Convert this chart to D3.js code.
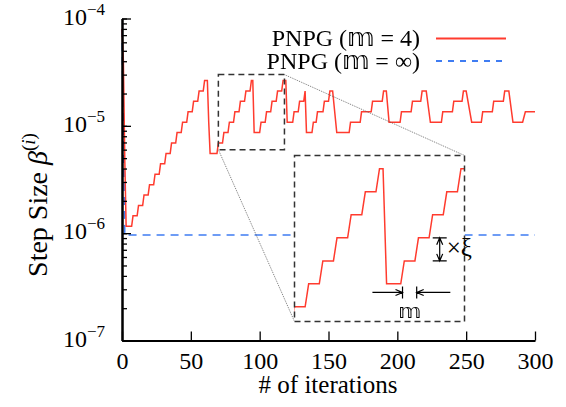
<!DOCTYPE html>
<html lang="en">
<head>
<meta charset="UTF-8">
<title>Step size of PNPG</title>
<script src="https://d3js.org/d3.v7.min.js"></script>
<style>
  body { margin: 0; background: #fff; }
</style>
</head>
<body>
<div id="chart"></div>
<script>
// PNPG (m = 4): vertices of the step curve, iteration / step size
const redIter = [0, 1, 2,
  3, 7, 8, 11, 12, 15, 16, 19, 20, 23, 24, 27, 28, 31, 32, 35,
  36, 39, 40, 43, 44, 47, 48, 51, 52, 55, 56, 59, 60, 62, 63,
  64, 69, 70, 73, 74, 77, 78, 81, 82, 85, 86, 89, 90, 93, 94, 95,
  96, 100, 101, 104, 105, 108, 109, 112, 113, 116, 117, 119,
  120, 124, 125, 128, 129, 132, 133,
  134, 138, 139, 141, 142, 146, 147, 150, 151, 153,
  156, 165, 166, 173, 174, 181, 182, 189, 190, 192,
  194, 202, 203, 210, 211, 217, 218, 221,
  224, 232, 233, 240, 241, 247, 248, 250,
  254, 261, 262, 269, 270, 277, 278, 281,
  284, 291, 293, 300];
const redStep = [8e-5, 4e-5, 5e-6,
  1.16e-6, 1.16e-6, 1.45e-6, 1.45e-6, 1.81e-6, 1.81e-6, 2.27e-6, 2.27e-6, 2.83e-6, 2.83e-6, 3.54e-6, 3.54e-6, 4.43e-6, 4.43e-6, 5.53e-6, 5.53e-6,
  6.92e-6, 6.92e-6, 8.65e-6, 8.65e-6, 1.08e-5, 1.08e-5, 1.35e-5, 1.35e-5, 1.69e-5, 1.69e-5, 2.11e-5, 2.11e-5, 2.64e-5, 2.64e-5, 1.08e-5,
  5.53e-6, 5.53e-6, 6.92e-6, 6.92e-6, 8.65e-6, 8.65e-6, 1.08e-5, 1.08e-5, 1.35e-5, 1.35e-5, 1.69e-5, 1.69e-5, 2.11e-5, 2.11e-5, 2.64e-5, 2.64e-5,
  8.65e-6, 8.65e-6, 1.08e-5, 1.08e-5, 1.35e-5, 1.35e-5, 1.69e-5, 1.69e-5, 2.11e-5, 2.11e-5, 2.64e-5, 2.64e-5,
  1.08e-5, 1.08e-5, 1.35e-5, 1.35e-5, 1.69e-5, 1.69e-5, 2.11e-5,
  8.65e-6, 8.65e-6, 1.08e-5, 1.08e-5, 1.35e-5, 1.35e-5, 1.69e-5, 1.69e-5, 2.11e-5, 2.11e-5,
  8.65e-6, 8.65e-6, 1.08e-5, 1.08e-5, 1.35e-5, 1.35e-5, 1.69e-5, 1.69e-5, 2.11e-5, 2.11e-5,
  1.08e-5, 1.08e-5, 1.35e-5, 1.35e-5, 1.69e-5, 1.69e-5, 2.11e-5, 2.11e-5,
  1.08e-5, 1.08e-5, 1.35e-5, 1.35e-5, 1.69e-5, 1.69e-5, 2.11e-5, 2.11e-5,
  1.08e-5, 1.08e-5, 1.35e-5, 1.35e-5, 1.69e-5, 1.69e-5, 2.11e-5, 2.11e-5,
  1.08e-5, 1.08e-5, 1.35e-5, 1.35e-5];

// PNPG (m = infinity)
const blueIter = [0, 2, 300];
const blueStep = [8e-5, 9.6e-7, 9.6e-7];

const xTicks = [0, 50, 100, 150, 200, 250, 300];
const yTicks = [1e-7, 1e-6, 1e-5, 1e-4];
const yTickExp = ["\u22127", "\u22126", "\u22125", "\u22124"];
const seriesLabels = ["PNPG (\ud835\udd5e = 4)", "PNPG (\ud835\udd5e = \u221e)"];

// zoomed window shown in the inset
const zoomIter = [70, 118];
const zoomStep = [6e-6, 3e-5];

const W = 566, H = 407;
const redColor = "#ff3b2e", blueColor = "#3f7cf2";
const serif = "'Liberation Serif', 'DejaVu Sans', serif";

const svg = d3.select("#chart").append("svg")
    .attr("width", W).attr("height", H)
    .style("font-family", serif);

// keeps the double-struck glyphs black
svg.append("defs").append("filter").attr("id", "gray")
  .append("feColorMatrix").attr("type", "saturate").attr("values", 0);

const x = d3.scaleLinear().domain([0, 300]).range([122, 535]);
const y = d3.scaleLog().domain([1e-7, 1e-4]).range([340.5, 18.5]);

const red = redIter.map((t, i) => [t, redStep[i]]);
const blue = blueIter.map((t, i) => [t, blueStep[i]]);

const line = d3.line().x(d => x(d[0])).y(d => y(d[1]));

// series
svg.append("path").datum(blue)
    .attr("fill", "none").attr("stroke", blueColor).attr("stroke-width", 1.6)
    .attr("stroke-dasharray", "8,6").attr("d", line);

svg.append("path").datum(red)
    .attr("fill", "none").attr("stroke", redColor).attr("stroke-width", 1.5)
    .attr("d", line);

// axes
const xAxis = svg.append("g")
    .attr("transform", `translate(0,${y.range()[0]})`)
    .call(d3.axisBottom(x).tickValues(xTicks).tickSizeInner(-9).tickSizeOuter(0).tickPadding(11));

svg.append("g")
    .attr("transform", `translate(${x.range()[0]},0)`)
    .call(d3.axisLeft(y).tickValues(y.ticks()).tickSizeInner(-5).tickSizeOuter(0).tickFormat(""));
svg.append("g")
    .attr("transform", `translate(${x.range()[0]},0)`)
    .call(d3.axisLeft(y).tickValues(yTicks).tickSizeInner(-9).tickSizeOuter(0).tickFormat(""));

svg.selectAll(".domain").attr("stroke", "#000").attr("stroke-width", 2);
svg.selectAll(".tick line").attr("stroke", "#000").attr("stroke-width", 1.3);
xAxis.selectAll(".tick text")
    .style("font-family", serif).style("font-size", "24px").attr("fill", "#000");

yTicks.forEach((v, i) => {
  const t = svg.append("text")
      .attr("x", 105).attr("y", y(v) + 6)
      .attr("text-anchor", "end").style("font-size", "24px");
  t.append("tspan").text("10");
  t.append("tspan").style("font-size", "17px").attr("dy", -10).text(yTickExp[i]);
});

// axis titles
svg.append("text")
    .attr("x", 328).attr("y", 393)
    .attr("text-anchor", "middle").style("font-size", "25px")
    .text("# of iterations");

const yt = svg.append("text")
    .attr("transform", "translate(47,205) rotate(-90)")
    .attr("text-anchor", "middle").style("font-size", "28px");
yt.append("tspan").text("Step Size ");
yt.append("tspan").style("font-style", "italic").text("\u03b2");
yt.append("tspan").style("font-size", "19px").attr("dy", -12).text("(");
yt.append("tspan").style("font-size", "19px").style("font-style", "italic").text("i");
yt.append("tspan").style("font-size", "19px").text(")");

// legend
const legendColors = [redColor, blueColor];
const legendDash = [null, "6,6"];
[46, 68.5].forEach((by, i) => {
  svg.append("text")
      .attr("x", 420).attr("y", by)
      .attr("text-anchor", "end").attr("fill", "#000").attr("filter", "url(#gray)")
      .style("font-size", "24px")
      .text(seriesLabels[i]);
  svg.append("line")
      .attr("x1", 436).attr("x2", 506).attr("y1", by - 7.5).attr("y2", by - 7.5)
      .attr("stroke", legendColors[i]).attr("stroke-width", 1.8)
      .attr("stroke-dasharray", legendDash[i]);
});

// inset
const ix = d3.scaleLinear().domain(zoomIter).range([294.5, 464.5]);
const iy = d3.scaleLog().domain(zoomStep).range([321.5, 155.5]);

const boxStroke = "#333";

// connectors
svg.append("line")
    .attr("x1", x(zoomIter[0])).attr("y1", y(zoomStep[0]))
    .attr("x2", ix(zoomIter[0])).attr("y2", iy(zoomStep[0]))
    .attr("stroke", "#555").attr("stroke-width", 0.8).attr("stroke-dasharray", "1,1");
svg.append("line")
    .attr("x1", x(zoomIter[1])).attr("y1", y(zoomStep[1]))
    .attr("x2", ix(zoomIter[1])).attr("y2", iy(zoomStep[1]))
    .attr("stroke", "#555").attr("stroke-width", 0.8).attr("stroke-dasharray", "1,1");

// small box on main plot
svg.append("rect")
    .attr("x", x(zoomIter[0])).attr("y", y(zoomStep[1]))
    .attr("width", x(zoomIter[1]) - x(zoomIter[0]))
    .attr("height", y(zoomStep[0]) - y(zoomStep[1]))
    .attr("fill", "none").attr("stroke", boxStroke).attr("stroke-width", 1.5)
    .attr("stroke-dasharray", "6,4");

svg.append("rect")
    .attr("x", ix.range()[0]).attr("y", iy.range()[1])
    .attr("width", ix.range()[1] - ix.range()[0])
    .attr("height", iy.range()[0] - iy.range()[1])
    .attr("fill", "#fff");

svg.append("clipPath").attr("id", "insetClip")
  .append("rect")
    .attr("x", ix.range()[0]).attr("y", iy.range()[1])
    .attr("width", ix.range()[1] - ix.range()[0])
    .attr("height", iy.range()[0] - iy.range()[1]);

const iline = d3.line().x(d => ix(d[0])).y(d => iy(d[1]));
svg.append("path").datum(red)
    .attr("clip-path", "url(#insetClip)")
    .attr("fill", "none").attr("stroke", redColor).attr("stroke-width", 1.5)
    .attr("d", iline);

svg.append("rect")
    .attr("x", ix.range()[0]).attr("y", iy.range()[1])
    .attr("width", ix.range()[1] - ix.range()[0])
    .attr("height", iy.range()[0] - iy.range()[1])
    .attr("fill", "none").attr("stroke", boxStroke).attr("stroke-width", 1.5)
    .attr("stroke-dasharray", "6,4");

// annotations inside the inset: factor xi per step, m iterations per step
const ann = svg.append("g").attr("stroke", "#000").attr("stroke-width", 1.2).attr("fill", "none");
const ax = ix(111), aTop = iy(1.35e-5), aBot = iy(1.08e-5);
ann.append("path").attr("d",
  `M${ax - 7},${aTop}H${ax + 7}M${ax - 7},${aBot}H${ax + 7}` +
  `M${ax},${aTop}V${aBot}` +
  `M${ax - 3},${aTop + 7}L${ax},${aTop}L${ax + 3},${aTop + 7}` +
  `M${ax - 3},${aBot - 7}L${ax},${aBot}L${ax + 3},${aBot - 7}`);
svg.append("text").attr("x", ax + 7).attr("y", (aTop + aBot) / 2 + 7)
    .style("font-size", "25px").text("\u00d7\u03be");

const hy = iy(7.95e-6), b1 = ix(100.5), b2 = ix(104.5);
ann.append("path").attr("d",
  `M${ix(92)},${hy}H${b1}M${b1 - 7},${hy - 3}L${b1},${hy}L${b1 - 7},${hy + 3}` +
  `M${b1},${hy - 6}V${hy + 6}` +
  `M${ix(114)},${hy}H${b2}M${b2 + 7},${hy - 3}L${b2},${hy}L${b2 + 7},${hy + 3}` +
  `M${b2},${hy - 6}V${hy + 6}`);
svg.append("text").attr("x", ix(102.5)).attr("y", 318)
    .attr("text-anchor", "middle").attr("fill", "#000").attr("filter", "url(#gray)")
    .style("font-size", "20px").text("\ud835\udd5e");
</script>
</body>
</html>
